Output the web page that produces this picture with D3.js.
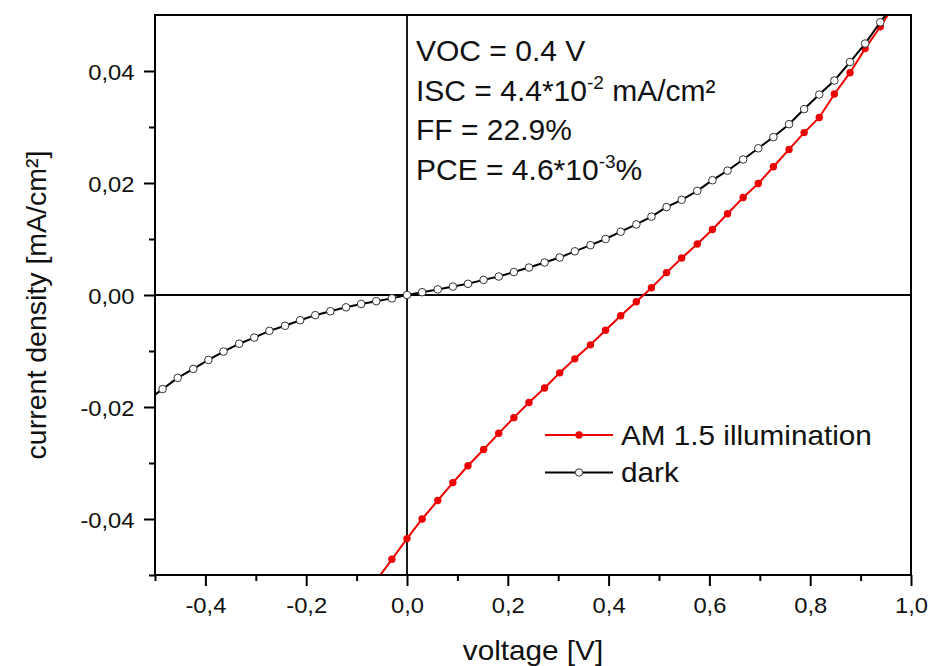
<!DOCTYPE html>
<html>
<head>
<meta charset="utf-8">
<script src="https://cdn.jsdelivr.net/npm/d3@7"></script>
<style>
  html, body { margin: 0; padding: 0; background: #fff; }
  svg { display: block; font-family: "Liberation Sans", Arial, sans-serif; }
</style>
</head>
<body>
<svg id="chart" width="930" height="666"></svg>
<script>
// ---- data ----
const volts = [-0.515, -0.485, -0.455, -0.424, -0.394, -0.364, -0.333, -0.303, -0.273, -0.242,
  -0.212, -0.182, -0.152, -0.121, -0.091, -0.061, -0.030, 0.000, 0.030, 0.061,
  0.091, 0.121, 0.152, 0.182, 0.212, 0.242, 0.273, 0.303, 0.333, 0.364,
  0.394, 0.424, 0.455, 0.485, 0.515, 0.545, 0.576, 0.606, 0.636, 0.667,
  0.697, 0.727, 0.758, 0.788, 0.818, 0.848, 0.879, 0.909, 0.939, 0.970];

const darkCurrent = [-0.0188, -0.0168, -0.0148, -0.0132, -0.0116, -0.0101, -0.0087, -0.0076, -0.0064, -0.0055,
  -0.0045, -0.0036, -0.0029, -0.0022, -0.0016, -0.0011, -0.0006, 0.0000, 0.0005, 0.0010,
  0.0015, 0.0020, 0.0027, 0.0033, 0.0041, 0.0049, 0.0058, 0.0067, 0.0078, 0.0089,
  0.0100, 0.0113, 0.0126, 0.0140, 0.0157, 0.0170, 0.0186, 0.0205, 0.0222, 0.0242,
  0.0262, 0.0282, 0.0305, 0.0332, 0.0358, 0.0383, 0.0416, 0.0449, 0.0487, 0.0525];

const lightCurrent = [null, null, null, null, null, null, null, null, null, null,
  null, null, null, null, null, -0.0510, -0.0472, -0.0435, -0.0400, -0.0367,
  -0.0335, -0.0305, -0.0276, -0.0247, -0.0219, -0.0192, -0.0166, -0.0139, -0.0114, -0.0089,
  -0.0063, -0.0037, -0.0012, 0.0013, 0.0040, 0.0066, 0.0091, 0.0117, 0.0145, 0.0174,
  0.0199, 0.0229, 0.0260, 0.0290, 0.0317, 0.0359, 0.0397, 0.0440, 0.0479, 0.0522];

const xMajorTicks = [-0.4, -0.2, 0.0, 0.2, 0.4, 0.6, 0.8, 1.0];
const xMinorTicks = [-0.5, -0.3, -0.1, 0.1, 0.3, 0.5, 0.7, 0.9];
const yMajorTicks = [-0.04, -0.02, 0.00, 0.02, 0.04];
const yMinorTicks = [-0.05, -0.03, -0.01, 0.01, 0.03];

const seriesNames = ["AM 1.5 illumination", "dark"];
const annotationLines = [
  {text: "VOC = 0.4 V"},
  {text: "ISC = 4.4*10", sup: "-2", rest: " mA/cm²"},
  {text: "FF = 22.9%"},
  {text: "PCE = 4.6*10", sup: "-3", rest: "%"}
];

// ---- layout ----
const svg = d3.select("#chart");
const L = 155, R = 911, T = 15, B = 575;
const x = d3.scaleLinear().domain([-0.5, 1.0]).range([L, R]);
const y = d3.scaleLinear().domain([-0.05, 0.05]).range([B, T]);
const RED = "#ee0000";

const fmt = (f) => (d) => d3.format(f)(d).replace("−", "-").replace(".", ",");

svg.append("defs").append("clipPath").attr("id", "plotclip")
  .append("rect").attr("x", L).attr("y", T).attr("width", R - L).attr("height", B - T);

// zero lines
svg.append("line").attr("x1", L).attr("x2", R).attr("y1", y(0)).attr("y2", y(0))
  .attr("stroke", "#000").attr("stroke-width", 1.8);
svg.append("line").attr("x1", x(0)).attr("x2", x(0)).attr("y1", T).attr("y2", B)
  .attr("stroke", "#000").attr("stroke-width", 1.8);

// curves
const plot = svg.append("g").attr("clip-path", "url(#plotclip)");
const idx = d3.range(volts.length);
const lineGen = (arr) => d3.line()
  .defined(i => arr[i] !== null)
  .x(i => x(volts[i])).y(i => y(arr[i]));

plot.append("path").attr("d", lineGen(lightCurrent)(idx))
  .attr("fill", "none").attr("stroke", RED).attr("stroke-width", 2);
plot.selectAll("circle.light").data(idx.filter(i => lightCurrent[i] !== null)).join("circle")
  .attr("class", "light").attr("cx", i => x(volts[i])).attr("cy", i => y(lightCurrent[i]))
  .attr("r", 3.7).attr("fill", RED);

plot.append("path").attr("d", lineGen(darkCurrent)(idx))
  .attr("fill", "none").attr("stroke", "#000").attr("stroke-width", 2);
plot.selectAll("circle.dark").data(idx).join("circle")
  .attr("class", "dark").attr("cx", i => x(volts[i])).attr("cy", i => y(darkCurrent[i]))
  .attr("r", 3.8).attr("fill", "#fff").attr("stroke", "#333").attr("stroke-width", 1);

// frame
svg.append("rect").attr("x", L).attr("y", T).attr("width", R - L).attr("height", B - T)
  .attr("fill", "none").attr("stroke", "#000").attr("stroke-width", 2);

// axes
const xAxisMinor = d3.axisBottom(x).tickValues(xMinorTicks).tickSize(6).tickFormat("");
const xAxis = d3.axisBottom(x).tickValues(xMajorTicks).tickSize(11).tickFormat(fmt(".1f"));
const yAxisMinor = d3.axisLeft(y).tickValues(yMinorTicks).tickSize(6).tickFormat("");
const yAxis = d3.axisLeft(y).tickValues(yMajorTicks).tickSize(11).tickFormat(fmt(".2f"));

function styleAxis(g) {
  g.select(".domain").remove();
  g.selectAll(".tick line").attr("stroke", "#000").attr("stroke-width", 2);
}
svg.append("g").attr("transform", `translate(0,${B})`).call(xAxisMinor).call(styleAxis);
const gx = svg.append("g").attr("transform", `translate(0,${B})`).call(xAxis).call(styleAxis);
svg.append("g").attr("transform", `translate(${L},0)`).call(yAxisMinor).call(styleAxis);
const gy = svg.append("g").attr("transform", `translate(${L},0)`).call(yAxis).call(styleAxis);

gx.selectAll(".tick text")
  .attr("font-family", "Liberation Sans, Arial, sans-serif").attr("font-size", 22)
  .attr("fill", "#111").attr("y", 38.5).attr("dy", 0)
  .attr("transform", "scale(1.08,1)");
gy.selectAll(".tick text")
  .attr("font-family", "Liberation Sans, Arial, sans-serif").attr("font-size", 22)
  .attr("fill", "#111").attr("x", -20.5 / 1.08).attr("dy", "0.37em")
  .attr("transform", "scale(1.08,1)");

// axis titles
svg.append("text").attr("transform", "translate(533,660) scale(1.1,1)")
  .attr("text-anchor", "middle").attr("font-size", 27).attr("fill", "#111")
  .text("voltage [V]");
svg.append("text").attr("transform", "translate(46,305) rotate(-90)")
  .attr("text-anchor", "middle").attr("font-size", 28.5).attr("fill", "#111")
  .text("current density [mA/cm²]");

// annotation
const baselines = [61, 100.7, 139.5, 180];
annotationLines.forEach((ln, k) => {
  const t = svg.append("text").attr("x", 416).attr("y", baselines[k])
    .attr("font-size", 30).attr("fill", "#111");
  t.append("tspan").text(ln.text);
  if (ln.sup) {
    t.append("tspan").attr("font-size", 19).attr("dy", -12).text(ln.sup);
    t.append("tspan").attr("dy", 12).text(ln.rest);
  }
});

// legend
const legendRows = [
  {name: seriesNames[0], color: RED, fill: RED, stroke: "none", y: 435},
  {name: seriesNames[1], color: "#000", fill: "#fff", stroke: "#333", y: 472.5}
];
legendRows.forEach(r => {
  svg.append("line").attr("x1", 545).attr("x2", 613).attr("y1", r.y).attr("y2", r.y)
    .attr("stroke", r.color).attr("stroke-width", 2);
  svg.append("circle").attr("cx", 579).attr("cy", r.y).attr("r", 3.7)
    .attr("fill", r.fill).attr("stroke", r.stroke).attr("stroke-width", 1);
  svg.append("text").attr("transform", `translate(621,${r.y + 9.5}) scale(1.1,1)`)
    .attr("font-size", 27).attr("fill", "#111").text(r.name);
});
</script>
</body>
</html>
